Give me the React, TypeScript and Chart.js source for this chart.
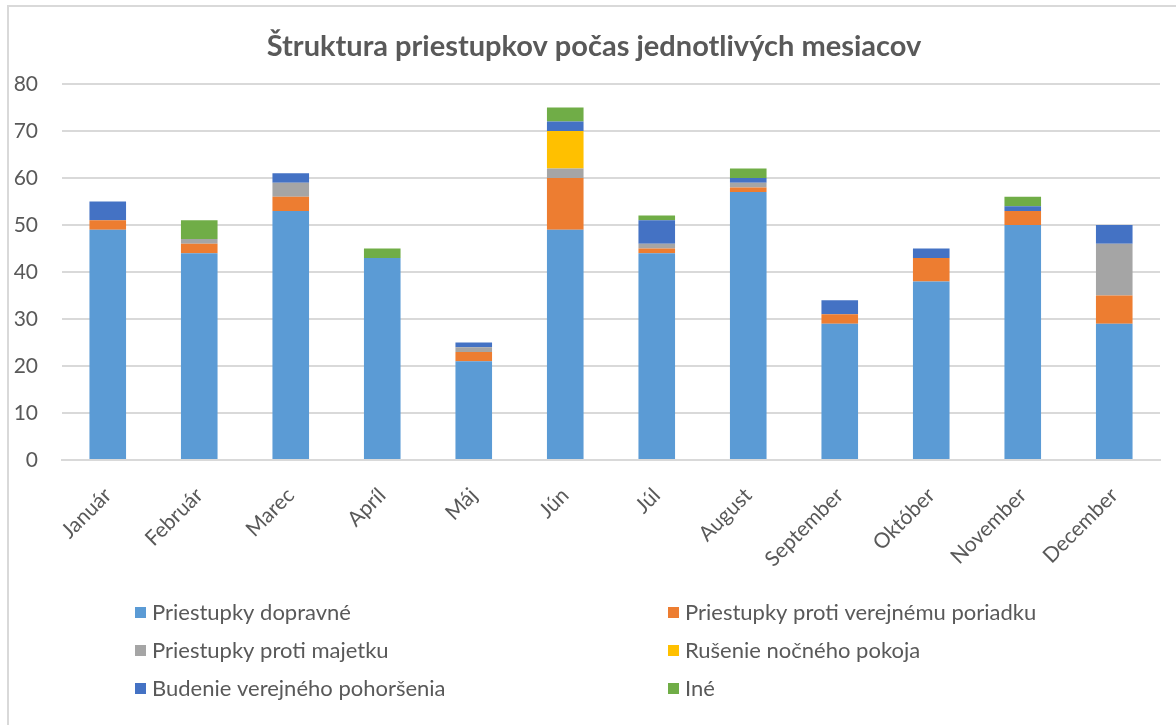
import React, { useEffect, useRef } from "react";
import { Chart, registerables } from "chart.js";

Chart.register(...registerables);

const months = ["Január", "Február", "Marec", "Apríl", "Máj", "Jún", "Júl", "August", "September", "Október", "November", "December"];
const dopravne = [49, 44, 53, 43, 21, 49, 44, 57, 29, 38, 50, 29];
const poriadok = [2, 2, 3, 0, 2, 11, 1, 1, 2, 5, 3, 6];
const majetok = [0, 1, 3, 0, 1, 2, 1, 1, 0, 0, 0, 11];
const nocny = [0, 0, 0, 0, 0, 8, 0, 0, 0, 0, 0, 0];
const pohorsenie = [4, 0, 2, 0, 1, 2, 5, 1, 3, 2, 1, 4];
const ine = [0, 4, 0, 2, 0, 3, 1, 2, 0, 0, 2, 0];

const seriesNames = ["Priestupky dopravné", "Priestupky proti verejnému poriadku", "Priestupky proti majetku", "Rušenie nočného pokoja", "Budenie verejného pohoršenia", "Iné"];
const seriesColors = ["#5B9BD5", "#ED7D31", "#A5A5A5", "#FFC000", "#4472C4", "#70AD47"];
const seriesData = [dopravne, poriadok, majetok, nocny, pohorsenie, ine];
const yTicks = [0, 10, 20, 30, 40, 50, 60, 70, 80];
const titleText = "Štruktura priestupkov počas jednotlivých mesiacov";

const FONT = "Lato, 'Noto Sans', sans-serif";

const frameLegend = {
  id: "frameLegend",
  afterDraw(chart: any) {
    const ctx = chart.ctx;
    ctx.save();
    ctx.strokeStyle = "#D9D9D9";
    ctx.lineWidth = 2;
    ctx.beginPath();
    ctx.moveTo(8, chart.height);
    ctx.lineTo(8, 6);
    ctx.lineTo(chart.width, 6);
    ctx.stroke();
    ctx.fillStyle = "#595959";
    ctx.font = `bold 29px ${FONT}`;
    ctx.textAlign = "center";
    ctx.textBaseline = "middle";
    ctx.fillText(titleText, 594, 47);
    const cols = [135, 668];
    const rows = [613, 651, 689];
    ctx.font = `22px ${FONT}`;
    ctx.textAlign = "left";
    seriesNames.forEach((name, i) => {
      const x = cols[i % 2];
      const y = rows[Math.floor(i / 2)];
      ctx.fillStyle = seriesColors[i];
      ctx.fillRect(x, y - 6, 11, 11);
      ctx.fillStyle = "#595959";
      ctx.fillText(name, x + 17, y);
    });
    ctx.restore();
  },
};

export default function App() {
  const ref = useRef<HTMLCanvasElement>(null);
  useEffect(() => {
    document.body.style.margin = "0";
    const chart = new Chart(ref.current!, {
      type: "bar",
      data: {
        labels: months,
        datasets: seriesNames.map((name, i) => ({
          label: name,
          data: seriesData[i],
          backgroundColor: seriesColors[i],
          borderWidth: 0,
          barPercentage: 0.4,
          categoryPercentage: 1,
        })),
      },
      options: {
        animation: false,
        responsive: false,
        maintainAspectRatio: false,
        layout: { padding: { left: 0, right: 16, top: 84, bottom: 155 } },
        plugins: {
          legend: { display: false },
          tooltip: { enabled: false },
          title: { display: false },
        },
        scales: {
          x: {
            stacked: true,
            afterFit: (scale: any) => {
              scale.height = 110;
              scale.paddingLeft = 0;
              scale.paddingRight = 0;
            },
            grid: { display: false },
            border: { color: "#D9D9D9", width: 2 },
            ticks: {
              color: "#595959",
              font: { family: FONT, size: 21 },
              maxRotation: 45,
              minRotation: 45,
              padding: 15,
            },
          },
          y: {
            stacked: true,
            min: 0,
            max: 80,
            afterFit: (scale: any) => {
              scale.width = 62;
              scale.paddingTop = 0;
              scale.paddingBottom = 0;
            },
            afterBuildTicks: (axis: any) => {
              axis.ticks = yTicks.map((v) => ({ value: v }));
            },
            grid: { color: "#D9D9D9", lineWidth: 2, drawTicks: false },
            border: { display: false },
            ticks: {
              color: "#595959",
              font: { family: FONT, size: 21 },
              padding: 24,
            },
          },
        },
      },
      plugins: [frameLegend],
    });
    return () => chart.destroy();
  }, []);
  return <canvas ref={ref} width={1176} height={725} style={{ display: "block" }} />;
}
